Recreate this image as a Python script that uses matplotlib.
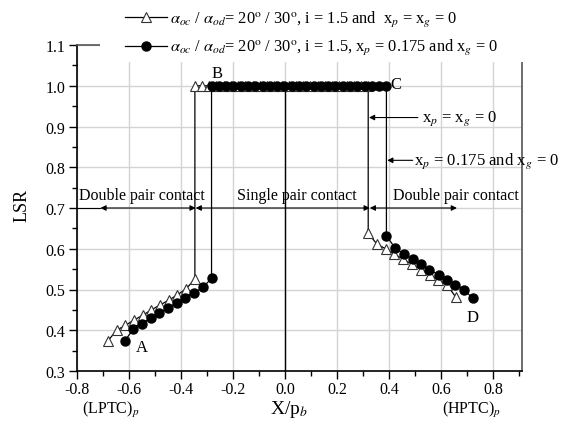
import matplotlib
matplotlib.use("Agg")
import matplotlib.pyplot as plt
from matplotlib.ticker import MultipleLocator, FormatStrFormatter
from matplotlib.patches import Rectangle

plt.rcParams['font.family'] = ['Liberation Serif', 'DejaVu Serif']
plt.rcParams['mathtext.fontset'] = 'stix'
plt.rcParams['axes.unicode_minus'] = False

# ---- data ----
# series 1: x_p = x_g = 0 (open triangles)
tri_left_x = [-0.681, -0.648, -0.614, -0.581, -0.547, -0.514, -0.481, -0.447, -0.414, -0.380, -0.347]
tri_left_y = [0.374, 0.400, 0.412, 0.425, 0.437, 0.450, 0.462, 0.474, 0.487, 0.502, 0.526]
tri_top_x = [-0.347, -0.319, -0.291, -0.264, -0.236, -0.208, -0.181, -0.153, -0.125, -0.097,
             -0.070, -0.042, -0.014, 0.014, 0.042, 0.069, 0.097, 0.125, 0.153, 0.180,
             0.208, 0.236, 0.264, 0.291, 0.319]
tri_top_y = [1.0] * 25
tri_right_x = [0.319, 0.353, 0.386, 0.420, 0.454, 0.487, 0.521, 0.555, 0.589, 0.622, 0.656]
tri_right_y = [0.638, 0.611, 0.600, 0.587, 0.574, 0.562, 0.549, 0.536, 0.524, 0.511, 0.481]

# series 2: x_p = 0.175, x_g = 0 (filled circles)
cir_left_x = [-0.617, -0.584, -0.550, -0.517, -0.484, -0.450, -0.417, -0.384, -0.350, -0.317, -0.283]
cir_left_y = [0.373, 0.403, 0.416, 0.429, 0.443, 0.454, 0.468, 0.480, 0.492, 0.505, 0.527]
cir_top_x = [-0.283, -0.255, -0.227, -0.199, -0.171, -0.143, -0.115, -0.087, -0.059, -0.031,
             -0.003, 0.025, 0.053, 0.081, 0.109, 0.137, 0.165, 0.193, 0.221, 0.249,
             0.277, 0.305, 0.333, 0.361, 0.389]
cir_top_y = [1.0] * 25
cir_right_x = [0.389, 0.423, 0.455, 0.490, 0.522, 0.554, 0.590, 0.622, 0.654, 0.688, 0.720]
cir_right_y = [0.632, 0.601, 0.588, 0.574, 0.562, 0.549, 0.536, 0.524, 0.512, 0.500, 0.478]

tri_x = tri_left_x + tri_top_x + tri_right_x
tri_y = tri_left_y + tri_top_y + tri_right_y
cir_x = cir_left_x + cir_top_x + cir_right_x
cir_y = cir_left_y + cir_top_y + cir_right_y

label1 = r'$\alpha_{oc}$ / $\alpha_{od}$= 20$^{\rm o}$ / 30$^{\rm o}$, i = 1.5 and  x$_p$ = x$_g$ = 0'
label2 = r'$\alpha_{oc}$ / $\alpha_{od}$= 20$^{\rm o}$ / 30$^{\rm o}$, i = 1.5, x$_p$ = 0.175 and x$_g$ = 0'

x_ticks = [-0.8, -0.6, -0.4, -0.2, 0.0, 0.2, 0.4, 0.6, 0.8]
y_ticks = [0.3, 0.4, 0.5, 0.6, 0.7, 0.8, 0.9, 1.0, 1.1]

# ---- figure ----
fig = plt.figure(figsize=(5.63, 4.31), dpi=100)
ax = fig.add_axes([77/563, 1 - 372/431, (522 - 77)/563, (372 - 46)/431])

ax.set_xlim(-0.8, 0.91)
ax.set_ylim(0.3, 1.1)
ax.set_xticks(x_ticks)
ax.set_yticks(y_ticks)
ax.xaxis.set_minor_locator(MultipleLocator(0.1))
ax.yaxis.set_minor_locator(MultipleLocator(0.05))
ax.xaxis.set_major_formatter(FormatStrFormatter('%.1f'))
ax.yaxis.set_major_formatter(FormatStrFormatter('%.1f'))
ax.tick_params(which='major', direction='out', length=6, width=1, labelsize=11.5, pad=2.5)
ax.tick_params(axis='x', which='major', pad=1.5)
ax.tick_params(which='minor', direction='out', length=3.5, width=1)
ax.grid(True, which='major', color='#d4d4d4', lw=1)
ax.set_axisbelow(True)

for s in ['left', 'bottom']:
    ax.spines[s].set_color('black')
    ax.spines[s].set_linewidth(1.2)
ax.spines['right'].set_color('#555555')
ax.spines['right'].set_linewidth(1.2)
ax.spines['top'].set_color('#555555')
ax.spines['top'].set_linewidth(1.2)

# vertical reference line at X = 0
ax.plot([0, 0], [0.3, 1.0], color='black', lw=1, zorder=2)

l1, = ax.plot(tri_x, tri_y, color='black', lw=0.9, marker='^', markersize=7.5,
              markerfacecolor='white', markeredgecolor='#333333', markeredgewidth=0.8,
              label=label1, zorder=3)
l2, = ax.plot(cir_x, cir_y, color='black', lw=0.9, marker='o', markersize=6.5,
              markerfacecolor='black', markeredgecolor='black',
              label=label2, zorder=4)

# point labels
ax.text(-0.262, 1.032, 'B', fontsize=12, ha='center', va='center')
ax.text(0.405, 1.005, 'C', fontsize=12, ha='left', va='center')
ax.text(-0.552, 0.358, 'A', fontsize=12, ha='center', va='center')
ax.text(0.72, 0.432, 'D', fontsize=12, ha='center', va='center')

# contact zone arrows
ap = dict(arrowstyle='<|-|>', color='black', lw=0.8, shrinkA=0, shrinkB=0, mutation_scale=8)
ya = 0.70
ax.plot([-0.8, -0.71], [ya, ya], color='black', lw=0.8)
ax.annotate('', xy=(-0.344, ya), xytext=(-0.71, ya), arrowprops=ap)
ax.annotate('', xy=(0.325, ya), xytext=(-0.344, ya), arrowprops=ap)
ax.annotate('', xy=(0.66, ya), xytext=(0.325, ya), arrowprops=ap)
ax.text(-0.552, 0.733, 'Double pair contact', fontsize=11.5, ha='center', va='center')
ax.text(0.045, 0.733, 'Single pair contact', fontsize=11.5, ha='center', va='center')
ax.text(0.655, 0.731, 'Double pair contact', fontsize=11.5, ha='center', va='center')

# pointer annotations
ap1 = dict(arrowstyle='-|>', color='black', lw=0.8, shrinkA=0, shrinkB=0, mutation_scale=8)
ax.annotate('', xy=(0.322, 0.922), xytext=(0.51, 0.922), arrowprops=ap1)
ax.text(0.525, 0.922, r'x$_p$ = x$_g$ = 0', fontsize=12, ha='left', va='center')
ax.annotate('', xy=(0.392, 0.817), xytext=(0.49, 0.817), arrowprops=ap1)
ax.text(0.495, 0.817, r'x$_p$ = 0.175 and x$_g$ = 0', fontsize=12, ha='left', va='center',
        clip_on=False)

# axis labels
fig.text(22/563, 1 - 205/431, 'LSR', fontsize=13, rotation=90, ha='center', va='center')
fig.text(289/563, 1 - 410/431, r'X/p$_b$', fontsize=14, ha='center', va='center')
fig.text(111/563, 1 - 410/431, r'(LPTC)$_p$', fontsize=11.5, ha='center', va='center')
fig.text(472/563, 1 - 410/431, r'(HPTC)$_p$', fontsize=11.5, ha='center', va='center')

# white band behind the legend (covers the top of the frame)
fig.add_artist(Rectangle((100/563, 1 - 63/431), (535 - 100)/563, 63/431,
                         transform=fig.transFigure, facecolor='white',
                         edgecolor='none', zorder=1))

leg = fig.legend(handles=[l1, l2], loc='upper left', bbox_to_anchor=(122/563, 1 - 7/431),
                 bbox_transform=fig.transFigure, frameon=False, fontsize=11.8,
                 handlelength=2.55, handletextpad=0.2, labelspacing=0.5, numpoints=1,
                 borderpad=0.2, borderaxespad=0)
leg.set_zorder(5)

fig.savefig('out.png', dpi=100)
